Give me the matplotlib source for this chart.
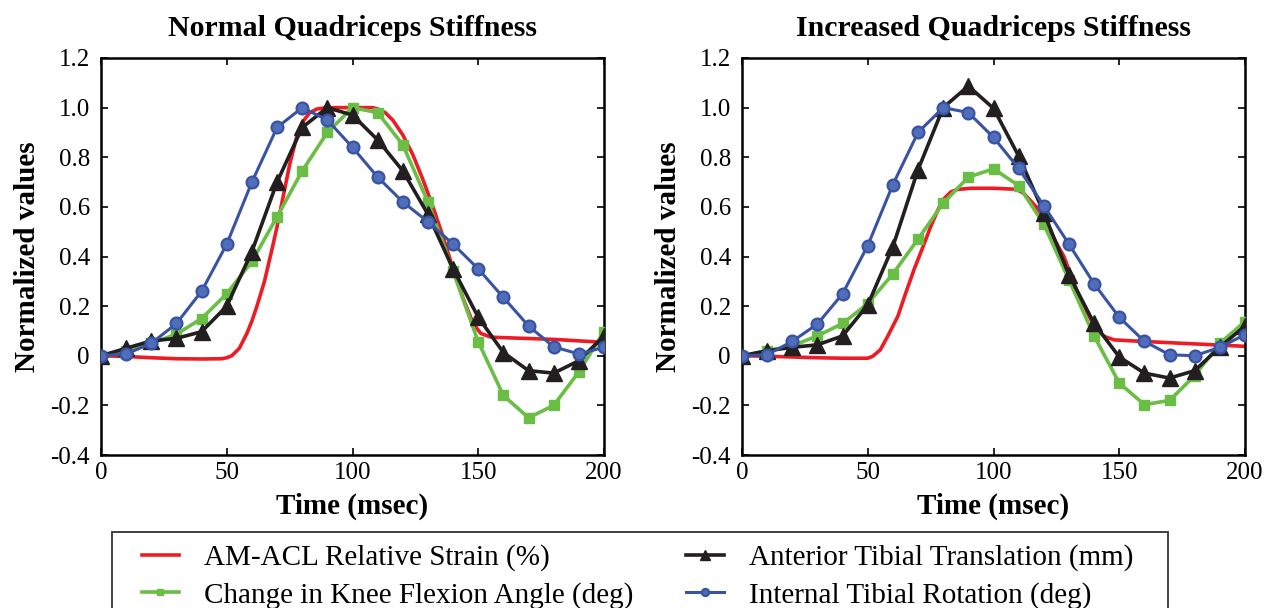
import matplotlib
matplotlib.use("Agg")
import matplotlib.pyplot as plt
from matplotlib.patches import Rectangle

plt.rcParams['font.family'] = ['Liberation Serif', 'DejaVu Serif']

t = list(range(0, 201, 10))

# Normal quadriceps stiffness
red_t_n = [0, 10, 20, 30, 40, 48, 50, 52, 55, 58, 60, 62, 65, 68, 70, 72, 75, 78, 80, 83, 86, 90, 100, 108,
           110, 113, 116, 120, 124, 128, 132, 136, 140, 144, 148, 151, 155, 160, 180, 200]
red_n = [0, -0.003, -0.008, -0.012, -0.013, -0.012, -0.008, 0.0, 0.03, 0.09, 0.14, 0.2, 0.3, 0.43, 0.52, 0.62,
         0.77, 0.89, 0.94, 0.98, 0.995, 1.0, 1.0, 1.0, 0.995, 0.98, 0.95, 0.89, 0.81, 0.71, 0.60, 0.48, 0.35,
         0.23, 0.13, 0.09, 0.075, 0.073, 0.066, 0.054]
green_n = [0, 0.02, 0.05, 0.087, 0.15, 0.25, 0.38, 0.56, 0.745, 0.90, 1.0, 0.98, 0.85, 0.62, 0.34, 0.056,
           -0.16, -0.25, -0.2, -0.065, 0.097]
black_n = [0, 0.03, 0.06, 0.07, 0.097, 0.2, 0.42, 0.70, 0.92, 1.0, 0.97, 0.87, 0.745, 0.57, 0.35, 0.155,
           0.013, -0.06, -0.07, -0.02, 0.08]
blue_n = [0, 0.007, 0.05, 0.13, 0.26, 0.45, 0.70, 0.92, 1.0, 0.95, 0.84, 0.72, 0.62, 0.54, 0.45, 0.35,
          0.235, 0.12, 0.036, 0.007, 0.034]

# Increased quadriceps stiffness
red_t_i = [0, 10, 20, 30, 40, 50, 52, 55, 58, 62, 65, 68.5, 72, 75, 78, 80, 83, 85.5, 91, 100, 109,
           112, 117, 122.5, 128, 134, 140, 144, 148, 155, 200]
red_i = [0, -0.002, -0.005, -0.008, -0.01, -0.01, -0.002, 0.024, 0.08, 0.16, 0.25, 0.35, 0.44, 0.52, 0.59,
         0.63, 0.66, 0.67, 0.675, 0.675, 0.671, 0.655, 0.6, 0.5, 0.4, 0.24, 0.12, 0.078, 0.064, 0.06, 0.038]
green_i = [0, 0.02, 0.04, 0.08, 0.13, 0.21, 0.33, 0.47, 0.615, 0.72, 0.753, 0.686, 0.53, 0.306, 0.08,
           -0.11, -0.197, -0.18, -0.08, 0.05, 0.138]
black_i = [0, 0.02, 0.034, 0.044, 0.08, 0.205, 0.44, 0.75, 1.0, 1.087, 0.997, 0.805, 0.577, 0.326, 0.13,
           -0.005, -0.07, -0.09, -0.06, 0.035, 0.12]
blue_i = [0, 0.004, 0.058, 0.128, 0.25, 0.444, 0.69, 0.90, 1.0, 0.98, 0.88, 0.755, 0.605, 0.45, 0.29,
          0.155, 0.058, 0.004, 0.0, 0.034, 0.085]

titles = ["Normal Quadriceps Stiffness", "Increased Quadriceps Stiffness"]
labels = ["AM-ACL Relative Strain (%)", "Change in Knee Flexion Angle (deg)",
          "Anterior Tibial Translation (mm)", "Internal Tibial Rotation (deg)"]
xticks = [0, 50, 100, 150, 200]
yticks = [-0.4, -0.2, 0, 0.2, 0.4, 0.6, 0.8, 1.0, 1.2]
yticklabels = ["-0.4", "-0.2", "0", "0.2", "0.4", "0.6", "0.8", "1.0", "1.2"]

RED = "#ED1C24"
GREEN = "#6ABD45"
BLACK = "#231F20"
BLUE = "#3953A4"
BLUE_FACE = "#4F6DB8"

fig = plt.figure(figsize=(12.64, 6.08), dpi=100)
axL = fig.add_axes([101/1264, 153/608, 503/1264, 397/608])
axR = fig.add_axes([742/1264, 153/608, 503/1264, 397/608])

datasets = [(red_t_n, red_n, green_n, black_n, blue_n), (red_t_i, red_i, green_i, black_i, blue_i)]
handles = None
for ax, title, (rt, r, g, k, b) in zip([axL, axR], titles, datasets):
    h1, = ax.plot(rt, r, color=RED, lw=2.6, zorder=2, solid_joinstyle='round')
    h2, = ax.plot(t, g, color=GREEN, lw=2.6, marker='s', ms=7.5, mfc=GREEN, mec=GREEN, zorder=3,
                  solid_joinstyle='round')
    h3, = ax.plot(t, k, color=BLACK, lw=2.6, marker='^', ms=11, mfc=BLACK, mec=BLACK, zorder=4,
                  solid_joinstyle='round')
    h4, = ax.plot(t, b, color=BLUE, lw=2.2, marker='o', ms=8.5, mfc=BLUE_FACE, mec=BLUE, mew=1.6, zorder=5,
                  solid_joinstyle='round')
    handles = [h1, h2, h3, h4]
    ax.set_xlim(0, 200)
    ax.set_ylim(-0.4, 1.2)
    ax.set_xticks(xticks)
    ax.set_xticklabels([str(v) for v in xticks])
    ax.set_yticks(yticks)
    ax.set_yticklabels(yticklabels)
    ax.tick_params(direction='in', top=True, right=True, labelsize=18, length=5, width=1.2)
    ax.tick_params(axis='y', pad=8)
    ax.tick_params(axis='x', pad=5)
    for s in ax.spines.values():
        s.set_linewidth(1.8)
    ax.set_title(title, fontsize=21.5, fontweight='bold', pad=16)
    ax.set_xlabel("Time (msec)", fontsize=21, fontweight='bold', labelpad=6)
    ax.set_ylabel("Normalized values", fontsize=21, fontweight='bold', labelpad=7)

# legend frame (extends beyond the bottom edge of the figure)
frame = Rectangle((112/1264, -0.05), (1168 - 112)/1264, (608 - 532)/608 + 0.05, transform=fig.transFigure,
                  fill=False, edgecolor='#333333', lw=1.3, zorder=1)
fig.patches.append(frame)

leg = fig.legend(handles, labels, loc='upper left', ncol=2,
                 bbox_to_anchor=(124/1264, 1 - 527/608),
                 fontsize=21, frameon=False,
                 handlelength=1.3, handletextpad=0.86, labelspacing=0.36, borderpad=0.1,
                 columnspacing=1.8, markerscale=0.6)

fig.savefig("out.png", dpi=100)
